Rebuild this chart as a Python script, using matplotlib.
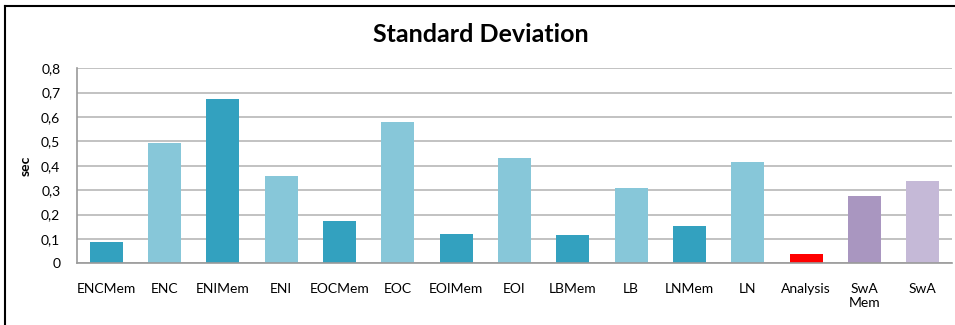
import numpy as np
import matplotlib.pyplot as plt
from matplotlib.lines import Line2D

plt.rcParams['font.family'] = ['Lato', 'DejaVu Sans']

# Data
labels = ['ENCMem', 'ENC', 'ENIMem', 'ENI', 'EOCMem', 'EOC', 'EOIMem', 'EOI',
          'LBMem', 'LB', 'LNMem', 'LN', 'Analysis', 'SwA\nMem', 'SwA']
std_dev = [0.086, 0.494, 0.673, 0.357, 0.173, 0.579, 0.119, 0.433,
           0.116, 0.307, 0.152, 0.414, 0.037, 0.275, 0.337]
yticks = [0, 0.1, 0.2, 0.3, 0.4, 0.5, 0.6, 0.7, 0.8]

dark = '#33a1bf'
light = '#87c7d9'
colors = [dark, light] * 6 + ['#ff0000', '#a996c0', '#c5b9d7']

fig = plt.figure(figsize=(9.55, 3.25), dpi=100)
ax = fig.add_axes([0.0806, 0.19, 0.9163, 0.60])

x = np.arange(len(labels))
ax.bar(x, std_dev, width=0.57, color=colors, zorder=3)

ax.set_xlim(-0.5, len(labels) - 0.5)
ax.set_ylim(0, 0.8)
ax.set_yticks(yticks)
ax.set_yticklabels([('%.1f' % v).replace('.', ',') if v else '0' for v in yticks])
ax.set_xticks(x)
ax.set_xticklabels(labels, va='top', linespacing=1.25)
ax.tick_params(axis='both', length=0, labelsize=10, colors='black')
ax.tick_params(axis='y', pad=12)
ax.tick_params(axis='x', pad=14)

ax.grid(axis='y', color='#b8b8b8', linewidth=1.2, zorder=0)
for s in ['top', 'right']:
    ax.spines[s].set_visible(False)
for s in ['left', 'bottom']:
    ax.spines[s].set_color('#9a9a9a')
    ax.spines[s].set_linewidth(1.2)
    ax.spines[s].set_zorder(4)

ax.set_ylabel('sec', fontsize=10, fontweight='bold', labelpad=7)

fig.text(0.503, 0.895, 'Standard Deviation', ha='center', va='center',
         fontsize=18, fontweight='bold')

# outer frame (top and left edges)
fig.add_artist(Line2D([0.0055, 0.0055], [0, 0.981], transform=fig.transFigure,
                      color='black', linewidth=1.5))
fig.add_artist(Line2D([0.0055, 1.0], [0.981, 0.981], transform=fig.transFigure,
                      color='black', linewidth=1.5))

fig.savefig('out.png', dpi=100)
